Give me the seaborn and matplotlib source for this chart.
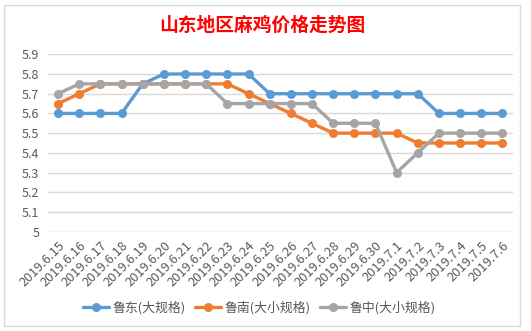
import matplotlib
matplotlib.use("Agg")
import matplotlib.pyplot as plt
import seaborn as sns
import pandas as pd
from matplotlib.patches import Rectangle

dates = ["2019.6.15", "2019.6.16", "2019.6.17", "2019.6.18", "2019.6.19", "2019.6.20",
         "2019.6.21", "2019.6.22", "2019.6.23", "2019.6.24", "2019.6.25", "2019.6.26",
         "2019.6.27", "2019.6.28", "2019.6.29", "2019.6.30", "2019.7.1", "2019.7.2",
         "2019.7.3", "2019.7.4", "2019.7.5", "2019.7.6"]
ludong = [5.6, 5.6, 5.6, 5.6, 5.75, 5.8, 5.8, 5.8, 5.8, 5.8, 5.7, 5.7,
          5.7, 5.7, 5.7, 5.7, 5.7, 5.7, 5.6, 5.6, 5.6, 5.6]
lunan = [5.65, 5.7, 5.75, 5.75, 5.75, 5.75, 5.75, 5.75, 5.75, 5.7, 5.65, 5.6,
         5.55, 5.5, 5.5, 5.5, 5.5, 5.45, 5.45, 5.45, 5.45, 5.45]
luzhong = [5.7, 5.75, 5.75, 5.75, 5.75, 5.75, 5.75, 5.75, 5.65, 5.65, 5.65, 5.65,
           5.65, 5.55, 5.55, 5.55, 5.3, 5.4, 5.5, 5.5, 5.5, 5.5]
series_names = ["鲁东(大规格)", "鲁南(大小规格)", "鲁中(大小规格)"]
colors = ["#5B9BD5", "#ED7D31", "#A5A5A5"]
yticks = [5, 5.1, 5.2, 5.3, 5.4, 5.5, 5.6, 5.7, 5.8, 5.9]
title = "山东地区麻鸡价格走势图"

sns.set_theme(style="white")
plt.rcParams['font.family'] = ['Noto Sans CJK SC', 'DejaVu Sans']

frames = []
for name, vals in zip(series_names, [ludong, lunan, luzhong]):
    frames.append(pd.DataFrame({"date": dates, "value": vals, "series": name}))
df = pd.concat(frames, ignore_index=True)

fig = plt.figure(figsize=(5.31, 3.31), dpi=100)
fig.patches.append(Rectangle((0.008, 0.015), 0.972, 0.97, transform=fig.transFigure,
                             fill=False, edgecolor="#D9D9D9", linewidth=1))
ax = fig.add_axes([47.5 / 531, 0.300, (513 - 47.5) / 531, 0.836 - 0.300])

sns.lineplot(data=df, x="date", y="value", hue="series", palette=colors,
             marker="o", markersize=6.5, markeredgewidth=0, linewidth=2.4,
             sort=False, ax=ax)

ax.set_xlim(-0.5, len(dates) - 0.5)
ax.set_ylim(5, 5.9)
ax.set_yticks(yticks)
ax.set_yticklabels([f"{v:g}" for v in yticks])
ax.yaxis.grid(True, color="#D9D9D9", linewidth=1)
ax.xaxis.grid(False)
for s in ax.spines.values():
    s.set_visible(False)
ax.set_xlabel("")
ax.set_ylabel("")
ax.set_xticks(range(len(dates)))
ax.set_xticklabels(dates, rotation=45, ha="right", rotation_mode="anchor")
ax.tick_params(axis="x", colors="#595959", labelsize=9.3, length=0, pad=5)
ax.tick_params(axis="y", colors="#595959", labelsize=9, length=0, pad=6)

fig.text(0.494, 0.925, title, color="#FF0000", fontsize=13.5, ha="center", va="center",
         fontweight="bold")

ax.legend(loc="center", bbox_to_anchor=(0.455, -0.43), ncol=3, frameon=False,
          fontsize=9.3, labelcolor="#595959", handlelength=2.0, columnspacing=0.7,
          handletextpad=0.3)

fig.savefig("out.png", dpi=100)
